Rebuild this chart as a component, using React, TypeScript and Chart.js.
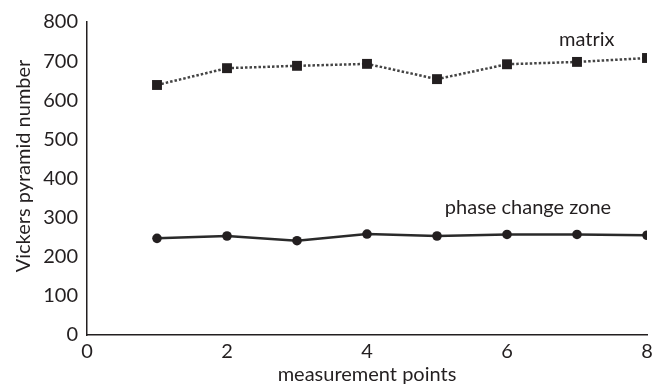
import React, { useEffect, useRef } from "react";
import { Chart, registerables } from "chart.js";

Chart.register(...registerables);

const measurementPoints = [1, 2, 3, 4, 5, 6, 7, 8];
const matrixValues = [639, 682, 688, 693, 654, 692, 698, 708];
const phaseValues = [247, 253, 241, 258, 253, 257, 257, 255];
const seriesLabels = ["matrix", "phase change zone"];
const xTitle = "measurement points";
const yTitle = "Vickers pyramid number";

const FONT = "Lato, 'Open Sans', sans-serif";
const INK = "#231f20";

const labelPlugin = {
  id: "seriesLabels",
  afterDatasetsDraw(chart: any) {
    const { ctx, scales } = chart;
    const x = scales.x;
    const y = scales.y;
    ctx.save();
    ctx.fillStyle = INK;
    ctx.font = `20px ${FONT}`;
    ctx.textAlign = "center";
    ctx.textBaseline = "middle";
    ctx.fillText(seriesLabels[0], x.getPixelForValue(7.14), y.getPixelForValue(754));
    ctx.fillText(seriesLabels[1], x.getPixelForValue(6.3), y.getPixelForValue(325));
    // y-axis title
    ctx.translate(24, y.getPixelForValue(432));
    ctx.rotate(-Math.PI / 2);
    ctx.fillText(yTitle, 0, 0);
    ctx.restore();
  },
};

export default function App() {
  const ref = useRef<HTMLCanvasElement>(null);
  useEffect(() => {
    const chart = new Chart(ref.current!, {
      type: "line",
      data: {
        datasets: [
          {
            label: seriesLabels[0],
            data: measurementPoints.map((x, i) => ({ x, y: matrixValues[i] })),
            borderColor: "#444",
            borderWidth: 2.5,
            borderDash: [2.5, 2],
            pointStyle: "rect",
            pointRadius: 7,
            pointBackgroundColor: INK,
            pointBorderColor: INK,
            pointBorderWidth: 0,
            tension: 0,
          },
          {
            label: seriesLabels[1],
            data: measurementPoints.map((x, i) => ({ x, y: phaseValues[i] })),
            borderColor: "#2a2a2a",
            borderWidth: 2.5,
            pointStyle: "circle",
            pointRadius: 4.8,
            pointBackgroundColor: INK,
            pointBorderColor: INK,
            pointBorderWidth: 0,
            tension: 0,
          },
        ],
      },
      options: {
        animation: false,
        responsive: false,
        layout: { padding: { top: 22, right: 17, left: 0, bottom: 0 } },
        plugins: { legend: { display: false }, tooltip: { enabled: false } },
        scales: {
          x: {
            type: "linear",
            min: 0,
            max: 8,
            ticks: { stepSize: 2, color: INK, font: { family: FONT, size: 20 }, padding: 5 },
            grid: { display: false, drawTicks: false },
            border: { display: true, color: INK, width: 1.5 },
            title: { display: true, text: xTitle, color: INK, font: { family: FONT, size: 20 }, padding: { top: 0, bottom: 0 } },
            afterFit: (s: any) => { s.height = 52; },
          },
          y: {
            min: 0,
            max: 800,
            ticks: { stepSize: 100, color: INK, font: { family: FONT, size: 20 }, padding: 9 },
            grid: { display: false, drawTicks: false },
            border: { display: true, color: INK, width: 1.5 },
            title: { display: false },
            afterFit: (s: any) => { s.width = 87; },
          },
        },
      },
      plugins: [labelPlugin],
    });
    return () => chart.destroy();
  }, []);
  return (
    <div style={{ position: "fixed", left: 0, top: 0, width: 664, height: 387, background: "#fff" }}>
      <canvas ref={ref} width={664} height={387} style={{ display: "block" }} />
    </div>
  );
}
